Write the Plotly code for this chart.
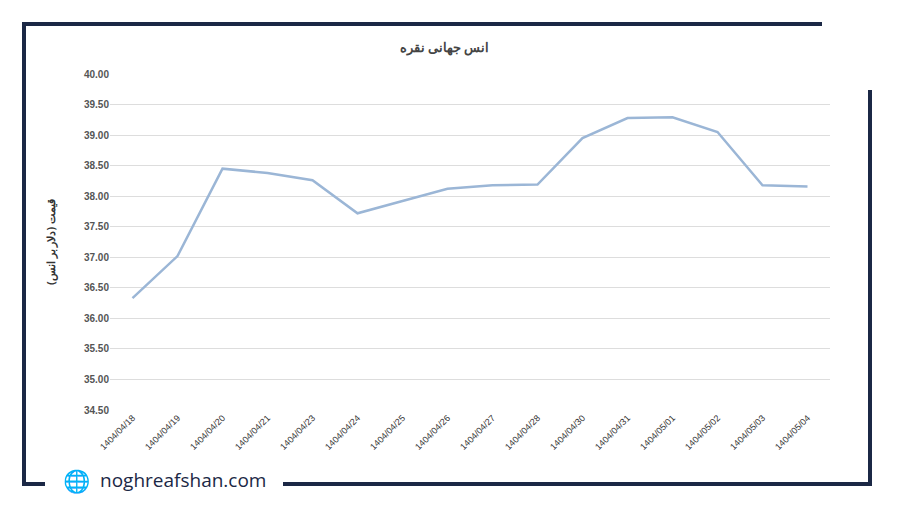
import plotly.graph_objects as go

dates = ["1404/04/18", "1404/04/19", "1404/04/20", "1404/04/21", "1404/04/23", "1404/04/24",
         "1404/04/25", "1404/04/26", "1404/04/27", "1404/04/28", "1404/04/30", "1404/04/31",
         "1404/05/01", "1404/05/02", "1404/05/03", "1404/05/04"]
prices = [36.33, 37.02, 38.45, 38.38, 38.26, 37.72, 37.92, 38.12, 38.18, 38.19,
          38.95, 39.28, 39.29, 39.05, 38.18, 38.16]
y_ticks = [34.5 + 0.5 * i for i in range(12)]

navy = "#1b2845"
OFF = 8  # page body margin
W, H = 900, 509
L, R, T, B = 110 - OFF, 70 + OFF, 74 - OFF, 99 + OFF

fig = go.Figure(go.Scatter(x=dates, y=prices, mode="lines",
                           line=dict(color="#9bb6d6", width=2.5)))

fig.update_layout(
    width=W, height=H, plot_bgcolor="white", paper_bgcolor="white",
    margin=dict(l=L, r=R, t=T, b=B),
    showlegend=False,
    title=dict(text="<b>انس جهانی نقره</b>", x=0.485, y=(H - 47 + OFF) / H,
               xanchor="center", yanchor="middle",
               font=dict(family="Noto Sans", size=13, color="#444")),
    xaxis=dict(tickangle=-45, range=[-0.5, 15.5],
               tickfont=dict(family="Liberation Sans", size=9, color="#333"),
               showgrid=False, showline=False, ticks=""),
    yaxis=dict(range=[34.5, 40], tickvals=y_ticks, ticktext=[f"<b>{v:.2f}</b>" for v in y_ticks],
               tickfont=dict(family="Liberation Sans", size=10, color="#555"),
               gridcolor="#dddddd", zeroline=False,
               title=dict(text="<b>قیمت (دلار بر انس)</b>", standoff=26,
                          font=dict(family="Noto Sans", size=11, color="#333"))),
)

pw, ph = W - L - R, H - T - B
def px(x): return (x - OFF - L) / pw
def py(y): return (H - B - (y - OFF)) / ph
segs = [(22, 24, 822, 24), (24, 22, 24, 486), (22, 484, 45, 484),
        (283, 484, 872, 484), (870, 90, 870, 486)]
fig.update_layout(shapes=[dict(type="line", xref="paper", yref="paper",
                               x0=px(a), y0=py(b), x1=px(c), y1=py(d),
                               line=dict(color=navy, width=4)) for a, b, c, d in segs])
fig.add_annotation(text="noghreafshan.com", xref="paper", yref="paper",
                   x=px(98), y=py(480), xanchor="left", yanchor="middle", showarrow=False,
                   font=dict(family="Open Sans", size=19, color="#1b2845"))
fig.add_annotation(text="🌐", xref="paper", yref="paper", x=px(76), y=py(480),
                   xanchor="center", yanchor="middle", showarrow=False,
                   font=dict(size=22, color="#1b2845"))

fig.write_html("out.html")
